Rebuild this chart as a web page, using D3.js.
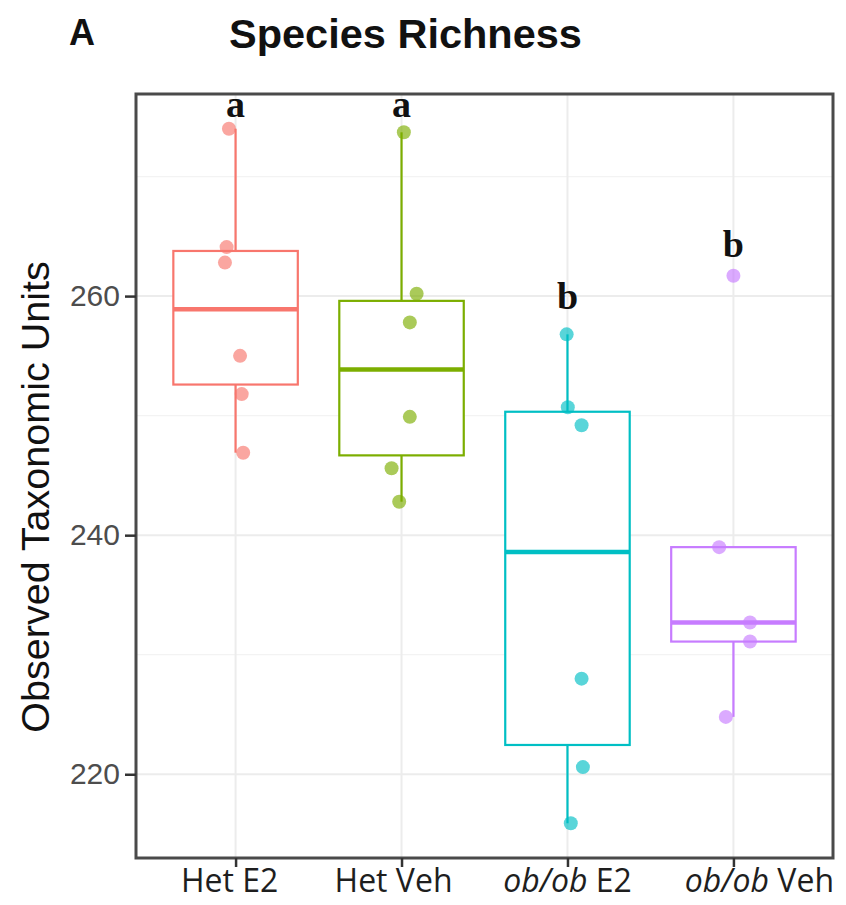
<!DOCTYPE html>
<html>
<head>
<meta charset="utf-8">
<script src="https://cdn.jsdelivr.net/npm/d3@7"></script>
<style>
  html, body { margin: 0; padding: 0; background: #fff; }
  svg { display: block; }
</style>
</head>
<body>
<svg id="chart" width="846" height="905"></svg>
<script>
// Groups and their colours (ggplot default hue palette)
const groups = ["Het E2", "Het Veh", "ob/ob E2", "ob/ob Veh"];
const colors = ["#F8766D", "#7CAE00", "#00BFC4", "#C77CFF"];

// Observed OTUs per mouse, one array per group
const hetE2   = [274.0, 264.1, 262.8, 255.0, 251.8, 246.9];
const hetVeh  = [273.7, 260.2, 257.8, 249.9, 245.6, 242.8];
const obobE2  = [256.8, 250.7, 249.2, 228.0, 220.6, 215.9];
const obobVeh = [261.7, 239.0, 232.7, 231.1, 224.8];

// Horizontal jitter of each point, in fractions of a category step
const jitHetE2   = [-0.040, -0.054, -0.064, 0.027, 0.037, 0.046];
const jitHetVeh  = [0.014, 0.091, 0.050, 0.050, -0.060, -0.014];
const jitObobE2  = [-0.005, 0.002, 0.085, 0.085, 0.093, 0.020];
const jitObobVeh = [0.000, -0.086, 0.100, 0.100, -0.046];

// Significance letters and the value at which each sits
const letters = ["a", "a", "b", "b"];
const letterY = [275.0, 275.0, 258.9, 263.3];

const yTicks = [220, 240, 260];
const yMinor = [230, 250, 270];

const series = [hetE2, hetVeh, obobE2, obobVeh];
const jitters = [jitHetE2, jitHetVeh, jitObobE2, jitObobVeh];

const svg = d3.select("#chart");
const panel = { left: 136, right: 833, top: 94, bottom: 858 };
// nudges for the category labels under the axis (px)
const labelNudge = [-6, -8, 0, 26];

// y scale: data range with 5% expansion on each side
const all = series.flat();
const lo = d3.min(all), hi = d3.max(all), pad = (hi - lo) * 0.05;
const y = d3.scaleLinear().domain([lo - pad, hi + pad]).range([panel.bottom, panel.top]);

const x = d3.scalePoint().domain(groups).range([panel.left, panel.right]).padding(0.6);
const step = x.step();
const boxW = step * 0.75;

// Panel background and grid
svg.append("rect")
  .attr("x", panel.left).attr("y", panel.top)
  .attr("width", panel.right - panel.left).attr("height", panel.bottom - panel.top)
  .attr("fill", "#fff");

const grid = svg.append("g");
grid.selectAll("line.minor").data(yMinor).join("line")
  .attr("x1", panel.left).attr("x2", panel.right)
  .attr("y1", d => y(d)).attr("y2", d => y(d))
  .attr("stroke", "#f3f3f3").attr("stroke-width", 1.2);
grid.selectAll("line.major").data(yTicks).join("line")
  .attr("x1", panel.left).attr("x2", panel.right)
  .attr("y1", d => y(d)).attr("y2", d => y(d))
  .attr("stroke", "#ececec").attr("stroke-width", 2);
grid.selectAll("line.vert").data(groups).join("line")
  .attr("x1", d => x(d)).attr("x2", d => x(d))
  .attr("y1", panel.top).attr("y2", panel.bottom)
  .attr("stroke", "#ececec").attr("stroke-width", 2);

// Box plots
series.forEach((vals, i) => {
  const g = groups[i], c = colors[i];
  const s = vals.slice().sort(d3.ascending);
  const q1 = d3.quantile(s, 0.25), med = d3.quantile(s, 0.5), q3 = d3.quantile(s, 0.75);
  const iqr = q3 - q1;
  const inside = s.filter(v => v >= q1 - 1.5 * iqr && v <= q3 + 1.5 * iqr);
  const wLo = d3.min(inside), wHi = d3.max(inside);
  const cx = x(g);
  const bg = svg.append("g");

  bg.append("line")
    .attr("x1", cx).attr("x2", cx).attr("y1", y(q3)).attr("y2", y(wHi))
    .attr("stroke", c).attr("stroke-width", 2.2);
  bg.append("line")
    .attr("x1", cx).attr("x2", cx).attr("y1", y(q1)).attr("y2", y(wLo))
    .attr("stroke", c).attr("stroke-width", 2.2);
  bg.append("rect")
    .attr("x", cx - boxW / 2).attr("y", y(q3))
    .attr("width", boxW).attr("height", y(q1) - y(q3))
    .attr("fill", "#fff").attr("stroke", c).attr("stroke-width", 2.2);
  bg.append("line")
    .attr("x1", cx - boxW / 2).attr("x2", cx + boxW / 2)
    .attr("y1", y(med)).attr("y2", y(med))
    .attr("stroke", c).attr("stroke-width", 4.5);
});

// Jittered points
series.forEach((vals, i) => {
  svg.append("g").selectAll("circle").data(vals).join("circle")
    .attr("cx", (d, j) => x(groups[i]) + jitters[i][j] * step)
    .attr("cy", d => y(d))
    .attr("r", 7)
    .attr("fill", colors[i])
    .attr("fill-opacity", 0.65);
});

// Letters above each group
svg.append("g").selectAll("text").data(letters).join("text")
  .attr("x", (d, i) => x(groups[i]))
  .attr("y", (d, i) => y(letterY[i]))
  .attr("text-anchor", "middle")
  .attr("font-family", "'Liberation Serif', 'Times New Roman', serif")
  .attr("font-weight", "bold")
  .attr("font-size", 38)
  .attr("fill", "#111")
  .text(d => d);

// Panel border
svg.append("rect")
  .attr("x", panel.left).attr("y", panel.top)
  .attr("width", panel.right - panel.left).attr("height", panel.bottom - panel.top)
  .attr("fill", "none").attr("stroke", "#4a4a4a").attr("stroke-width", 3);

// Y axis
const yAxis = svg.append("g")
  .attr("transform", `translate(${panel.left},0)`)
  .call(d3.axisLeft(y).tickValues(yTicks).tickSize(11).tickPadding(5));
yAxis.select(".domain").remove();
yAxis.selectAll(".tick line").attr("stroke", "#333").attr("stroke-width", 2.5);
yAxis.selectAll(".tick text")
  .attr("font-family", "'Liberation Sans', Arial, sans-serif")
  .attr("font-size", 30).attr("fill", "#4d4d4d");

// X axis
const xAxis = svg.append("g")
  .attr("transform", `translate(0,${panel.bottom})`)
  .call(d3.axisBottom(x).tickSize(9).tickFormat(""));
xAxis.select(".domain").remove();
xAxis.selectAll(".tick line").attr("stroke", "#333").attr("stroke-width", 2.5);

// Category labels, with the genotype "ob/ob" set in italics
const xl = svg.append("g").selectAll("text").data(groups).join("text")
  .attr("x", (d, i) => x(d) + labelNudge[i]).attr("y", 892)
  .attr("text-anchor", "middle")
  .attr("font-family", "'Open Sans', 'Liberation Sans', sans-serif")
  .attr("font-size", 32).attr("fill", "#1e1e1e");
xl.each(function(d) {
  const t = d3.select(this);
  if (d.startsWith("ob/ob")) {
    t.append("tspan").attr("font-style", "italic").text("ob/ob");
    t.append("tspan").text(d.slice(5));
  } else {
    t.text(d);
  }
});

// Axis title
svg.append("text")
  .attr("transform", "translate(49,497) rotate(-90)")
  .attr("text-anchor", "middle")
  .attr("font-family", "'Liberation Sans', Arial, sans-serif")
  .attr("font-size", 39.5).attr("fill", "#111")
  .text("Observed Taxonomic Units");

// Panel tag and title
svg.append("text")
  .attr("x", 69).attr("y", 45)
  .attr("font-family", "'Liberation Sans', Arial, sans-serif")
  .attr("font-weight", "bold").attr("font-size", 36).attr("fill", "#111")
  .text("A");
svg.append("text")
  .attr("x", 229).attr("y", 48)
  .attr("font-family", "'Liberation Sans', Arial, sans-serif")
  .attr("font-weight", "bold").attr("font-size", 41.5).attr("fill", "#111")
  .text("Species Richness");
</script>
</body>
</html>
